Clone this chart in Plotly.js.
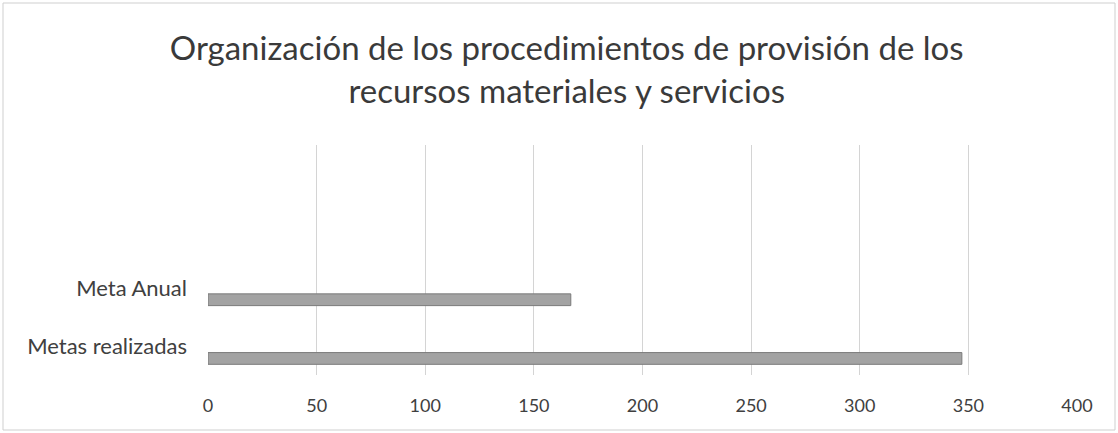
<!DOCTYPE html>
<html>
<head>
<meta charset="utf-8">
<script src="https://cdn.plot.ly/plotly-3.0.1.min.js"></script>
<style>html,body{margin:0;padding:0;background:#fff;}#chart{width:1118px;height:433px;}</style>
</head>
<body>
<div id="chart"></div>
<script>
var categories = ["Metas realizadas", "Meta Anual"];
var values = [347, 167];
var xTicks = [0, 50, 100, 150, 200, 250, 300, 350, 400];
var titleText = "Organización de los procedimientos de provisión de los<br>recursos materiales y servicios";

var trace = {
  type: 'bar',
  orientation: 'h',
  x: values,
  y: [0, 1],
  width: 0.2,
  offset: -0.3,
  marker: {color: '#a3a3a3', line: {color: '#7a7a7a', width: 1}},
  hoverinfo: 'x+y'
};

var layout = {
  width: 1118, height: 433,
  margin: {l: 208, r: 41, t: 145, b: 58},
  paper_bgcolor: '#fff', plot_bgcolor: '#fff',
  font: {family: 'Lato, "Open Sans", sans-serif', color: '#404040', size: 18},
  title: {
    text: titleText,
    font: {family: 'Lato, "Open Sans", sans-serif', size: 33, color: '#3a3a3a'},
    x: 566.7/1118, xref: 'container', xanchor: 'center',
    y: 1 - 60/433, yref: 'container', yanchor: 'middle'
  },
  showlegend: false,
  bargap: 0,
  xaxis: {
    range: [0, 400],
    tickvals: xTicks,
    ticktext: xTicks.map(String),
    showgrid: true, gridcolor: '#d4d4d4', gridwidth: 1,
    zeroline: false, showline: false, ticks: '',
    ticklabelstandoff: 18,
    tickfont: {size: 18, color: '#404040'},
    fixedrange: true
  },
  yaxis: {
    range: [-0.482, 3.436],
    tickvals: [0, 1],
    ticktext: categories,
    showgrid: false, zeroline: false, showline: false, ticks: '',
    ticklabelstandoff: 20,
    tickfont: {size: 22, color: '#404040'},
    fixedrange: true
  },
  shapes: [{
    type: 'rect', xref: 'paper', yref: 'paper',
    x0: (3-208)/869, x1: (1115-208)/869,
    y0: (375-430)/230, y1: (375-3)/230,
    line: {color: '#cfcfcf', width: 1}, fillcolor: 'rgba(0,0,0,0)', layer: 'below'
  }]
};

Plotly.newPlot('chart', [trace], layout, {displayModeBar: false, staticPlot: true});
</script>
</body>
</html>
